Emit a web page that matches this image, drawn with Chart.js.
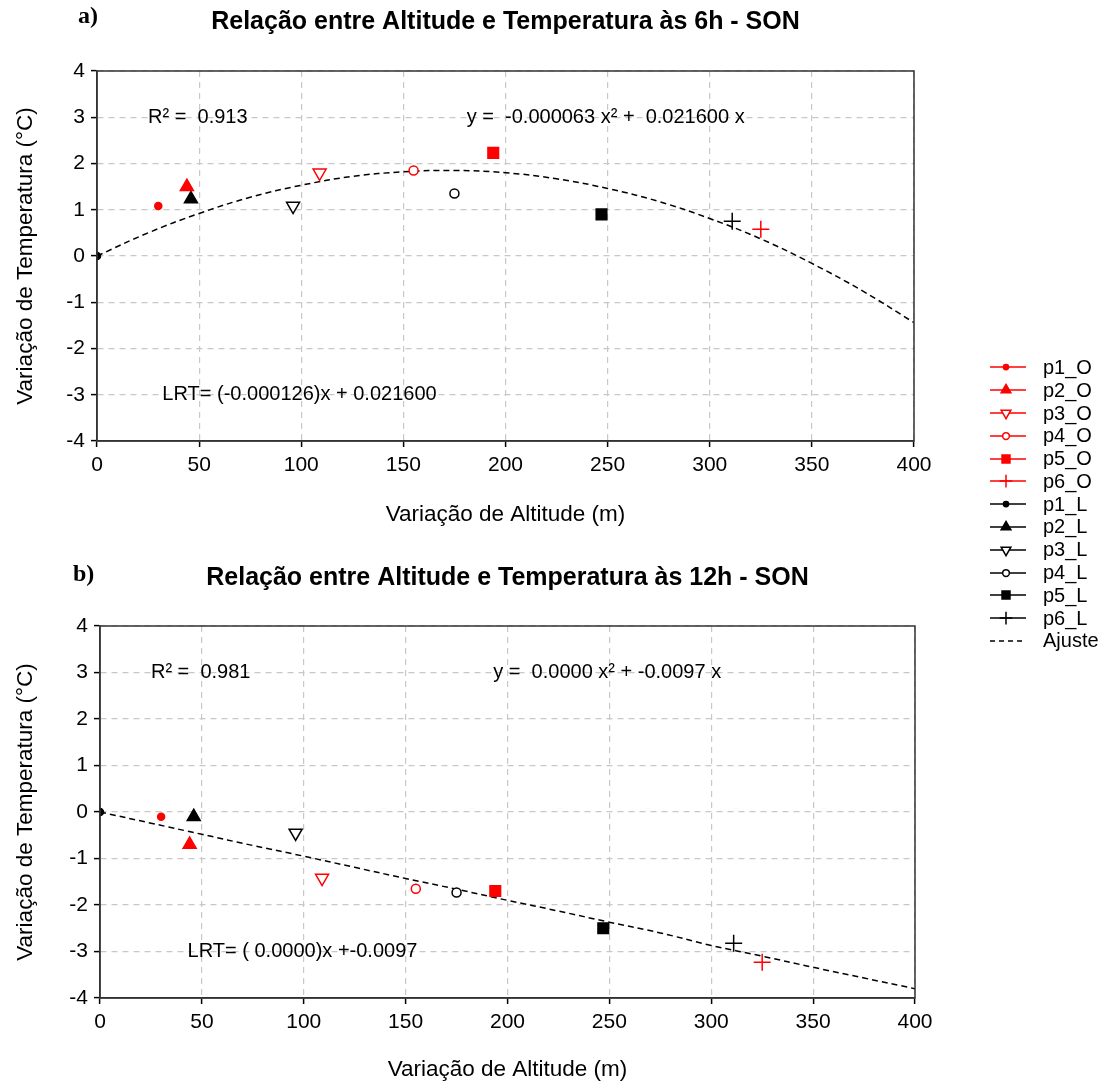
<!DOCTYPE html>
<html>
<head>
<meta charset="utf-8">
<script src="https://cdn.jsdelivr.net/npm/chart.js@4.4.1/dist/chart.umd.min.js"></script>
<style>
  body { margin: 0; background: #fff; width: 1109px; height: 1086px; position: relative; overflow: hidden;
         font-family: "Liberation Sans", Arial, sans-serif; }
  canvas.panel { position: absolute; left: 0; }
  #legend { position: absolute; left: 990px; top: 356px; }
  .row { height: 22.8px; display: flex; align-items: center; font-size: 20px; color: #000; white-space: nowrap; }
  .row canvas { margin-right: 17px; }
</style>
</head>
<body>
<canvas id="chartA" class="panel" width="960" height="540" style="top:0"></canvas>
<canvas id="chartB" class="panel" width="960" height="530" style="top:556px"></canvas>
<div id="legend"></div>
<script>
// point names, same points for both hours
var pointNames = ['p1', 'p2', 'p3', 'p4', 'p5', 'p6'];
// altitude difference (m) of each point, O = oeste, L = leste
var altO = [30, 44, 109, 155, 194, 325];
var altL = [0, 46, 96, 175, 247, 311];

// temperature difference (°C) at 6h
var temp6O = [1.08, 1.5, 1.8, 1.85, 2.23, 0.58];
var temp6L = [0, 1.23, 1.08, 1.35, 0.9, 0.75];
// temperature difference (°C) at 12h
var temp12O = [-0.1, -0.7, -1.42, -1.65, -1.7, -3.23];
var temp12L = [0, -0.1, -0.45, -1.73, -2.5, -2.82];

// fitted curve ("Ajuste") every 25 m
var fitAlt = [0, 25, 50, 75, 100, 125, 150, 175, 200, 225, 250, 275, 300, 325, 350, 375, 400];
var fit6 = [0, 0.5, 0.92, 1.27, 1.53, 1.72, 1.82, 1.85, 1.8, 1.67, 1.46, 1.18, 0.81, 0.37, -0.16, -0.76, -1.44];
var fit12 = [0, -0.24, -0.48, -0.72, -0.95, -1.19, -1.43, -1.66, -1.9, -2.13, -2.37, -2.6, -2.87, -3.1, -3.34, -3.57, -3.8];

// marker look per point
var markerStyle = ['circle', 'triangle', 'triangle', 'circle', 'rect', 'cross'];
var markerRot = [0, 0, 180, 0, 0, 0];
var markerSize = [3.5, 7.5, 7.5, 4.5, 7.5, 8.5];
var markerHollow = [false, false, true, true, false, false];

var fontName = '"Liberation Sans", Arial, sans-serif';

function buildDatasets(tempO, tempL, fit) {
    var sets = [];
    var groups = [['_O', altO, tempO, '#ff0000'], ['_L', altL, tempL, '#000000']];
    groups.forEach(function (g) {
        for (var i = 0; i < pointNames.length; i++) {
            sets.push({
                label: pointNames[i] + g[0],
                data: [{x: g[1][i], y: g[2][i]}],
                pointStyle: markerStyle[i],
                rotation: markerRot[i],
                pointRadius: markerSize[i],
                pointHoverRadius: markerSize[i],
                borderWidth: 1.5,
                borderColor: g[3],
                backgroundColor: markerHollow[i] ? '#ffffff' : g[3],
                showLine: false
            });
        }
    });
    sets.push({
        label: 'Ajuste',
        data: fitAlt.map(function (a, k) { return {x: a, y: fit[k]}; }),
        showLine: true,
        borderColor: '#000',
        borderWidth: 1.5,
        borderDash: [6, 4],
        pointRadius: 0,
        tension: 0.4,
        fill: false,
        order: 1
    });
    return sets;
}

// draws panel letter, title, text notes and the box around the plot
var notesPlugin = {
    id: 'notes',
    afterDraw: function (chart, args, opts) {
        var ctx = chart.ctx, area = chart.chartArea;
        var xs = chart.scales.x, ys = chart.scales.y;
        ctx.save();
        ctx.strokeStyle = '#333';
        ctx.lineWidth = 1.5;
        ctx.strokeRect(area.left, area.top, area.right - area.left, area.bottom - area.top);

        ctx.fillStyle = '#000';
        ctx.textBaseline = 'middle';
        ctx.font = 'bold 24px "Liberation Serif", "Times New Roman", serif';
        ctx.textAlign = 'left';
        ctx.fillText(opts.panel, opts.panelX, opts.panelY);

        ctx.font = 'bold 25px ' + fontName;
        ctx.textAlign = 'center';
        ctx.fillText(opts.title, (area.left + area.right) / 2, opts.titleY);

        ctx.font = '20px ' + fontName;
        ctx.textAlign = 'left';
        opts.texts.forEach(function (t) {
            ctx.fillText(t.text, xs.getPixelForValue(t.x), ys.getPixelForValue(t.y));
        });
        ctx.restore();
    }
};

function makeOptions(cfg) {
    return {
        responsive: false,
        animation: false,
        layout: {padding: {top: cfg.top, right: cfg.right, left: 0, bottom: 0}},
        plugins: {
            legend: {display: false},
            tooltip: {enabled: false},
            notes: cfg.notes
        },
        scales: {
            x: {
                type: 'linear', min: 0, max: 400,
                ticks: {stepSize: 50, color: '#000', font: {size: 21, family: fontName}, padding: 6, maxRotation: 0},
                grid: {color: '#c8c8c8', lineWidth: 1.2, drawTicks: true, tickLength: 6, tickColor: '#000', tickWidth: 1.5, tickBorderDash: []},
                border: {display: true, color: '#333', width: 1.5, dash: [6, 5]},
                title: {display: true, text: 'Variação de Altitude (m)', color: '#000',
                        font: {size: 22.5, family: fontName}, padding: {top: 0, bottom: cfg.xTitlePad}},
                afterFit: function (s) { s.height = cfg.xHeight; }
            },
            y: {
                min: -4, max: 4,
                ticks: {stepSize: 1, color: '#000', font: {size: 21, family: fontName}, padding: 6},
                grid: {color: '#c8c8c8', lineWidth: 1.2, drawTicks: true, tickLength: 6, tickColor: '#000', tickWidth: 1.5, tickBorderDash: []},
                border: {display: true, color: '#333', width: 1.5, dash: [6, 5]},
                title: {display: true, text: 'Variação de Temperatura (°C)', color: '#000',
                        font: {size: 22.5, family: fontName}, padding: {top: 12, bottom: 0}},
                afterFit: function (s) { s.width = cfg.yWidth; }
            }
        }
    };
}

var chartA = new Chart(document.getElementById('chartA'), {
    type: 'scatter',
    data: {datasets: buildDatasets(temp6O, temp6L, fit6)},
    options: makeOptions({
        top: 71, right: 46, yWidth: 97, xHeight: 99, xTitlePad: 12,
        notes: {
            panel: 'a)', panelX: 78, panelY: 17, title: 'Relação entre Altitude e Temperatura às 6h - SON', titleY: 22,
            texts: [
                {x: 25, y: 3, text: 'R² =  0.913'},
                {x: 181, y: 3, text: 'y =  -0.000063 x² +  0.021600 x'},
                {x: 32, y: -3, text: 'LRT= (-0.000126)x + 0.021600'}
            ]
        }
    }),
    plugins: [notesPlugin]
});

var chartB = new Chart(document.getElementById('chartB'), {
    type: 'scatter',
    data: {datasets: buildDatasets(temp12O, temp12L, fit12)},
    options: makeOptions({
        top: 70, right: 45, yWidth: 100, xHeight: 88, xTitlePad: 3,
        notes: {
            panel: 'b)', panelX: 73, panelY: 19, title: 'Relação entre Altitude e Temperatura às 12h - SON', titleY: 22,
            texts: [
                {x: 25, y: 3, text: 'R² =  0.981'},
                {x: 193, y: 3, text: 'y =  0.0000 x² + -0.0097 x'},
                {x: 43, y: -3, text: 'LRT= ( 0.0000)x +-0.0097'}
            ]
        }
    }),
    plugins: [notesPlugin]
});

// shared legend, built from the first chart's datasets
var legendBox = document.getElementById('legend');
chartA.data.datasets.forEach(function (ds) {
    var row = document.createElement('div');
    row.className = 'row';
    var icon = document.createElement('canvas');
    icon.width = 36; icon.height = 22;
    var c = icon.getContext('2d');
    c.strokeStyle = ds.borderColor;
    c.lineWidth = 1.5;
    if (ds.borderDash) c.setLineDash([5, 4]);
    c.beginPath(); c.moveTo(0, 11); c.lineTo(36, 11); c.stroke();
    c.setLineDash([]);
    if (ds.pointRadius > 0 && Chart.helpers && Chart.helpers.drawPoint) {
        c.fillStyle = ds.backgroundColor;
        Chart.helpers.drawPoint(c, {pointStyle: ds.pointStyle, rotation: ds.rotation, radius: ds.pointRadius * 0.75, borderWidth: 1.5}, 16, 11);
    }
    row.appendChild(icon);
    var label = document.createElement('span');
    label.textContent = ds.label;
    row.appendChild(label);
    legendBox.appendChild(row);
});
</script>
</body>
</html>
